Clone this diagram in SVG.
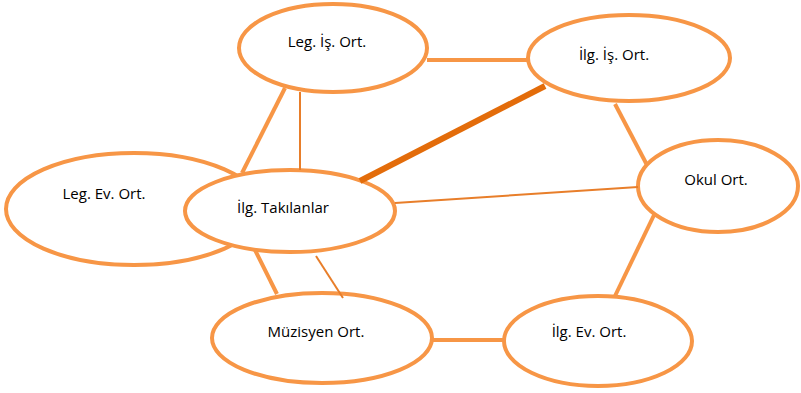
<svg xmlns="http://www.w3.org/2000/svg" width="801" height="393" viewBox="0 0 801 393">
<style>
.n{fill:#fff;stroke:#F79646;stroke-width:4}
.t{font-family:"Open Sans","Noto Sans",sans-serif;font-size:15px;fill:#000;text-anchor:middle}
.c{stroke:#F79646;stroke-width:4;fill:none}
.thin{stroke:#E87E2A;stroke-width:2;fill:none}
.heavy{stroke:#E36C0A;stroke-width:6;fill:none}
</style>
<rect width="801" height="393" fill="#fff"/>
<g id="n-leg-ev"><ellipse class="n" cx="134" cy="209" rx="128" ry="56"/><text class="t" x="104" y="199">Leg. Ev. Ort.</text></g>
<g id="n-ilg-takilanlar"><ellipse class="n" cx="290" cy="211" rx="105" ry="41"/><text class="t" x="283" y="213">İlg. Takılanlar</text></g>
<g id="n-leg-is"><ellipse class="n" cx="333" cy="48" rx="94" ry="44"/><text class="t" x="327" y="47">Leg. İş. Ort.</text></g>
<g id="n-ilg-is"><ellipse class="n" cx="629" cy="58" rx="101" ry="43"/><text class="t" x="614" y="60">İlg. İş. Ort.</text></g>
<g id="n-okul"><ellipse class="n" cx="718" cy="186" rx="80" ry="46"/><text class="t" x="716" y="185">Okul Ort.</text></g>
<g id="n-muzisyen"><ellipse class="n" cx="322" cy="338" rx="110" ry="45"/><text class="t" x="316" y="337">Müzisyen Ort.</text></g>
<g id="n-ilg-ev"><ellipse class="n" cx="598" cy="341" rx="94" ry="45"/><text class="t" x="589" y="337">İlg. Ev. Ort.</text></g>
<g id="connectors">
<line class="c" x1="427" y1="60" x2="528" y2="60"/>
<line class="c" x1="285" y1="88" x2="242" y2="173"/>
<line class="thin" x1="300" y1="92" x2="300" y2="170"/>
<line class="heavy" x1="360" y1="181" x2="545" y2="86"/>
<line class="thin" x1="395" y1="203" x2="638" y2="187"/>
<line class="c" x1="615" y1="104" x2="647" y2="165"/>
<line class="c" x1="655" y1="213" x2="615" y2="296"/>
<line class="c" x1="432" y1="340" x2="504" y2="340"/>
<line class="c" x1="255" y1="250" x2="277" y2="294"/>
<line class="thin" x1="316" y1="256" x2="343" y2="298"/>
</g>
</svg>
